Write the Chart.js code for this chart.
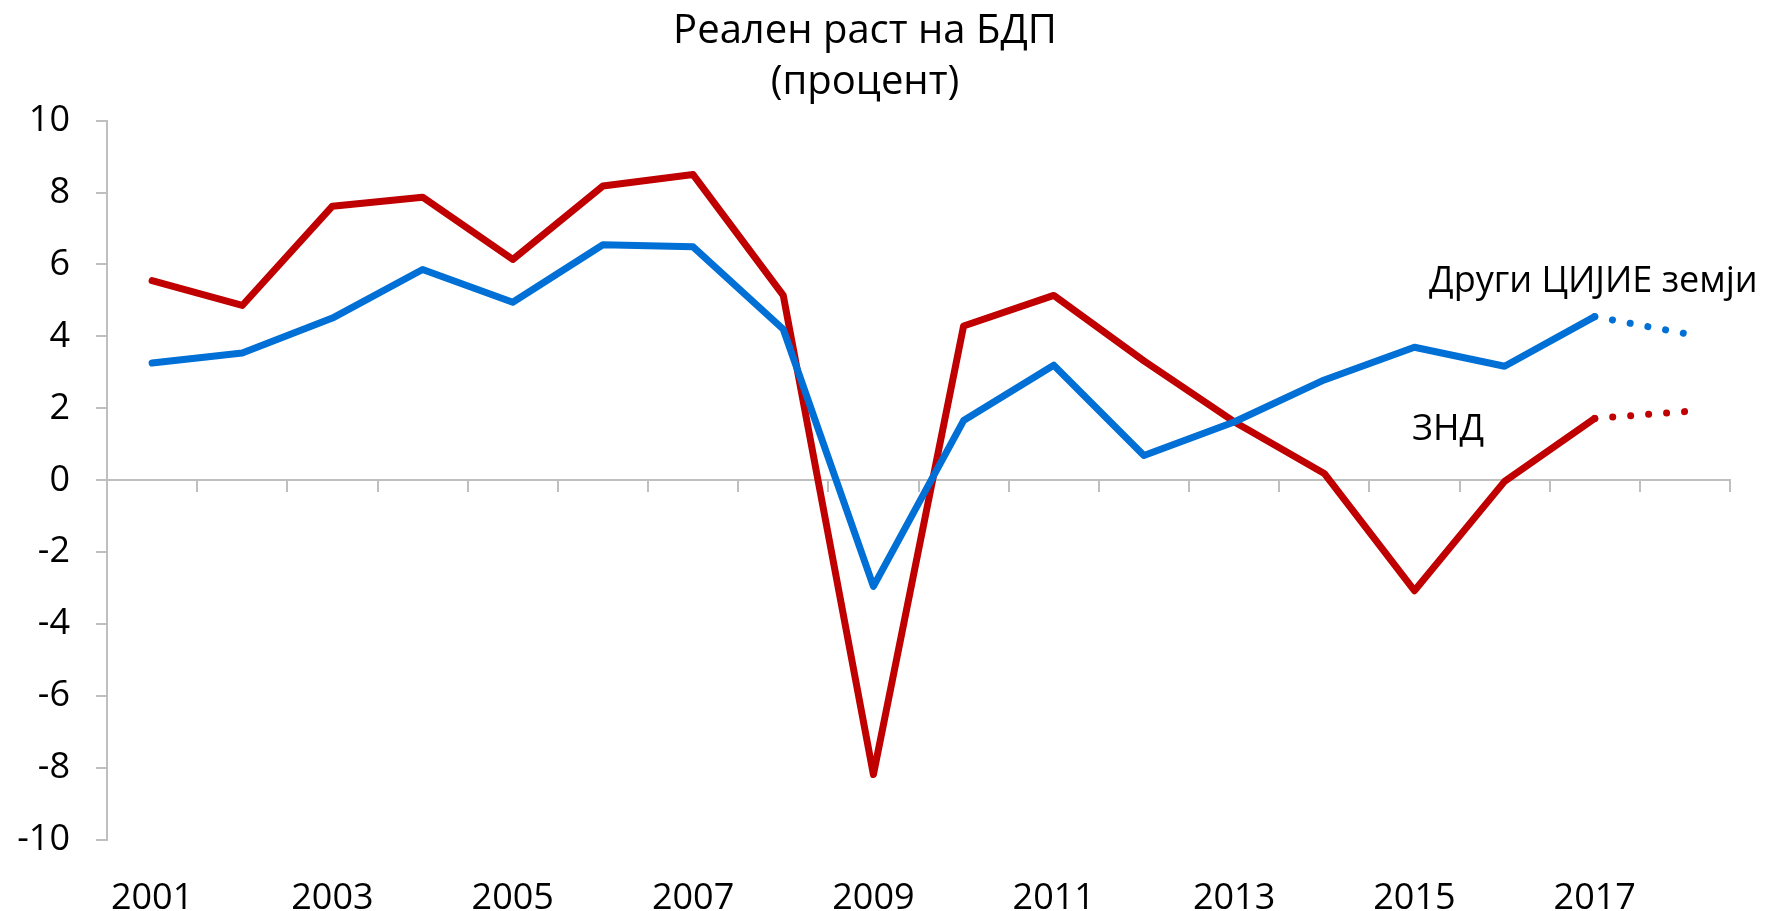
<!DOCTYPE html>
<html>
<head>
<meta charset="utf-8">
<script src="https://cdn.jsdelivr.net/npm/chart.js@4"></script>
<style>
  html, body { margin: 0; padding: 0; background: #fff; }
  #wrap { width: 1767px; height: 911px; }
</style>
</head>
<body>
<div id="wrap"><canvas id="gdp"></canvas></div>
<script>
const years = ["2001","2002","2003","2004","2005","2006","2007","2008","2009",
               "2010","2011","2012","2013","2014","2015","2016","2017","2018"];
// ЗНД
const cisValues = [5.55, 4.86, 7.62, 7.87, 6.14, 8.18, 8.50, 5.14, -8.18,
                   4.29, 5.14, 3.32, 1.63, 0.19, -3.07, -0.03, 1.72, 1.91];
// Други ЦИЈИЕ земји
const ceseeValues = [3.26, 3.54, 4.51, 5.86, 4.95, 6.55, 6.49, 4.20, -2.95,
                     1.66, 3.20, 0.69, 1.62, 2.79, 3.70, 3.17, 4.55, 4.08];
const titleLines = ["Реален раст на БДП", "(процент)"];

const FONT = "'Open Sans', 'Noto Sans', sans-serif";
const AXIS = "#BFBFBF";
const RED = "#C00000";
const BLUE = "#0070D6";
const lastIdx = years.length - 1;

// the last year is a projection, drawn dotted
const dotted = ctx => ctx.p1DataIndex === lastIdx ? [0.01, 18] : undefined;

const seriesLabels = {
  id: "seriesLabels",
  afterDatasetsDraw(chart) {
    const c = chart.ctx;
    c.save();
    c.font = "36px " + FONT;
    c.fillStyle = "#000";
    c.textAlign = "left";
    c.textBaseline = "middle";
    c.fillText("Други ЦИЈИЕ земји", 1429, 282);
    c.fillText("ЗНД", 1412, 430);
    c.restore();
  }
};

new Chart(document.getElementById("gdp"), {
  type: "line",
  data: {
    labels: years,
    datasets: [
      {
        label: "Други ЦИЈИЕ земји",
        data: ceseeValues,
        borderColor: BLUE,
        borderWidth: 7,
        pointRadius: 0,
        borderCapStyle: "round",
        borderJoinStyle: "round",
        segment: { borderDash: dotted }
      },
      {
        label: "ЗНД",
        data: cisValues,
        borderColor: RED,
        borderWidth: 7,
        pointRadius: 0,
        borderCapStyle: "round",
        borderJoinStyle: "round",
        segment: { borderDash: dotted }
      }
    ]
  },
  options: {
    responsive: true,
    maintainAspectRatio: false,
    animation: false,
    layout: { padding: { left: 0, right: 37, top: 0, bottom: 0 } },
    plugins: {
      legend: { display: false },
      tooltip: { enabled: false },
      title: {
        display: true,
        text: titleLines,
        color: "#000",
        font: { family: FONT, size: 40, weight: "normal", lineHeight: 1.27 },
        padding: { top: 6, bottom: 13 }
      }
    },
    scales: {
      x: {
        type: "category",
        offset: true,
        grid: { display: false, drawTicks: false },
        border: { display: false },
        ticks: {
          autoSkip: false,
          maxRotation: 0,
          padding: 37,
          color: "#000",
          font: { family: FONT, size: 36 },
          callback: (v, i) => i % 2 === 0 ? years[i] : ""
        },
        afterFit: s => { s.height = 71; }
      },
      x0: {
        type: "category",
        labels: years,
        position: { y: 0 },
        offset: true,
        grid: { offset: true, drawOnChartArea: false, tickLength: 11, color: AXIS, lineWidth: 2 },
        border: { color: AXIS, width: 2 },
        ticks: { display: false }
      },
      y: {
        min: -10,
        max: 10,
        grid: { drawOnChartArea: false, tickLength: 11, color: AXIS, lineWidth: 2 },
        border: { color: AXIS, width: 2 },
        ticks: {
          stepSize: 2,
          padding: 26,
          color: "#000",
          font: { family: FONT, size: 36 }
        },
        afterFit: s => { s.width = 107; }
      }
    }
  },
  plugins: [seriesLabels]
});
</script>
</body>
</html>
